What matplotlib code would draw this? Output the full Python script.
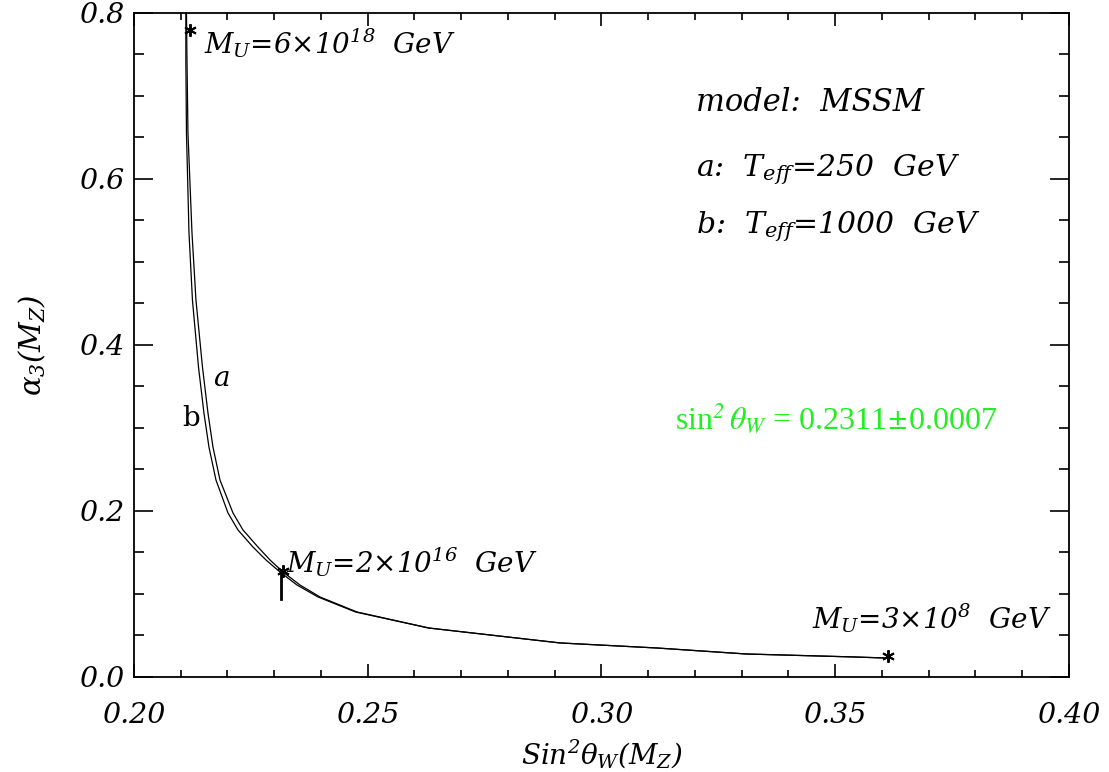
import numpy as np
import matplotlib
matplotlib.use("Agg")
import matplotlib.pyplot as plt

# curve a (T_eff=250 GeV) and curve b (T_eff=1000 GeV)
alpha_s = [0.800, 0.743, 0.655, 0.535, 0.454, 0.3735, 0.318, 0.277, 0.2373, 0.1976, 0.1771, 0.1566, 0.1410, 0.1265,
	0.1108, 0.0964, 0.0783, 0.0590, 0.0410, 0.0349, 0.0277, 0.0241, 0.0229]
sin2_a = [0.21123, 0.21134, 0.21155, 0.21241, 0.21326, 0.21465, 0.21583, 0.21690, 0.21840, 0.22118, 0.22332, 0.22652,
	0.22909, 0.23187, 0.23551, 0.23979, 0.24770, 0.26310, 0.29112, 0.31187, 0.33091, 0.35401, 0.36043]
sin2_b = [0.21110, 0.21110, 0.21123, 0.21177, 0.21251, 0.21380, 0.21497, 0.21604, 0.21754, 0.22011, 0.22225, 0.22545,
	0.22823, 0.23123, 0.23487, 0.23936, 0.24738, 0.26299, 0.29112, 0.31187, 0.33091, 0.35401, 0.36043]

# M_U points
mu_x = [0.2120, 0.2319, 0.3612]
mu_y = [0.780, 0.128, 0.025]
mu_labels = [r"$M_U$=6$\times$10$^{18}$  GeV", r"$M_U$=2$\times$10$^{16}$  GeV", r"$M_U$=3$\times$10$^{8}$  GeV"]
mu_label_pos = [(0.2150, 0.764), (0.2325, 0.1386), (0.3450, 0.0711)]

# measured sin^2 theta_W bar
meas_x = 0.2315
meas_y = [0.094, 0.128]

plt.rcParams["font.family"] = "DejaVu Serif"
plt.rcParams["font.style"] = "italic"
plt.rcParams["mathtext.fontset"] = "custom"
plt.rcParams["mathtext.it"] = "DejaVu Serif:italic"
plt.rcParams["mathtext.rm"] = "DejaVu Serif:italic"
plt.rcParams["mathtext.bf"] = "DejaVu Serif:italic:bold"

fig = plt.figure(figsize=(11.09, 7.72), dpi=100)
ax = fig.add_axes([0.1208, 0.1231, 0.8431, 0.8601])

ax.plot(sin2_a, alpha_s, color="black", lw=0.9)
ax.plot(sin2_b, alpha_s, color="black", lw=0.9)
ax.plot(mu_x, mu_y, ls="none", marker=(6, 2, 0), ms=9, mew=1.4, color="black")
ax.plot([meas_x, meas_x], meas_y, color="black", lw=2)

for lab, (lx, ly) in zip(mu_labels, mu_label_pos):
	ax.text(lx, ly, lab, fontsize=20, ha="left", va="center")

ax.text(0.2186, 0.360, "a", fontsize=20, ha="center", va="center")
ax.text(0.2122, 0.312, "b", fontsize=20, ha="center", va="center", fontstyle="normal")

ax.text(0.3202, 0.6916, "model:  MSSM", fontsize=22, ha="left", va="center")
ax.text(0.3202, 0.6108, r"a:  $T_{eff}$=250  GeV", fontsize=21.5, ha="left", va="center")
ax.text(0.3202, 0.5422, r"b:  $T_{eff}$=1000  GeV", fontsize=21.5, ha="left", va="center")

ax.text(0.3157, 0.312, r"sin$^2\,\theta_W$ = 0.2311$\pm$0.0007", fontsize=23, ha="left", va="center",
	color="#22ee22", family="Liberation Serif", fontstyle="normal", math_fontfamily="stix")

ax.set_xlim(0.20, 0.40)
ax.set_ylim(0.0, 0.8)
ax.set_xticks(np.arange(0.20, 0.401, 0.05))
ax.set_xticks(np.arange(0.20, 0.401, 0.01), minor=True)
ax.set_yticks(np.arange(0.0, 0.81, 0.2))
ax.set_yticks(np.arange(0.0, 0.81, 0.05), minor=True)
ax.set_xticklabels(["%.2f" % v for v in np.arange(0.20, 0.401, 0.05)])
ax.set_yticklabels(["%.1f" % v for v in np.arange(0.0, 0.81, 0.2)])
ax.tick_params(axis="x", which="major", direction="in", length=9.5, width=1.2, top=True, pad=18, labelsize=20.5)
ax.tick_params(axis="x", which="minor", direction="in", length=5, width=1.2, top=True)
ax.tick_params(axis="y", which="major", direction="in", length=14, width=1.2, right=True, pad=7, labelsize=20.5)
ax.tick_params(axis="y", which="minor", direction="in", length=7.5, width=1.2, right=True)
for s in ax.spines.values():
	s.set_linewidth(1.3)

ax.set_xlabel(r"Sin$^2\theta_{\rm W}(M_Z)$", fontsize=20, labelpad=6)
ax.set_ylabel(r"$\alpha_3(M_Z)$", fontsize=21, labelpad=22)

plt.savefig("out.png", dpi=100)
